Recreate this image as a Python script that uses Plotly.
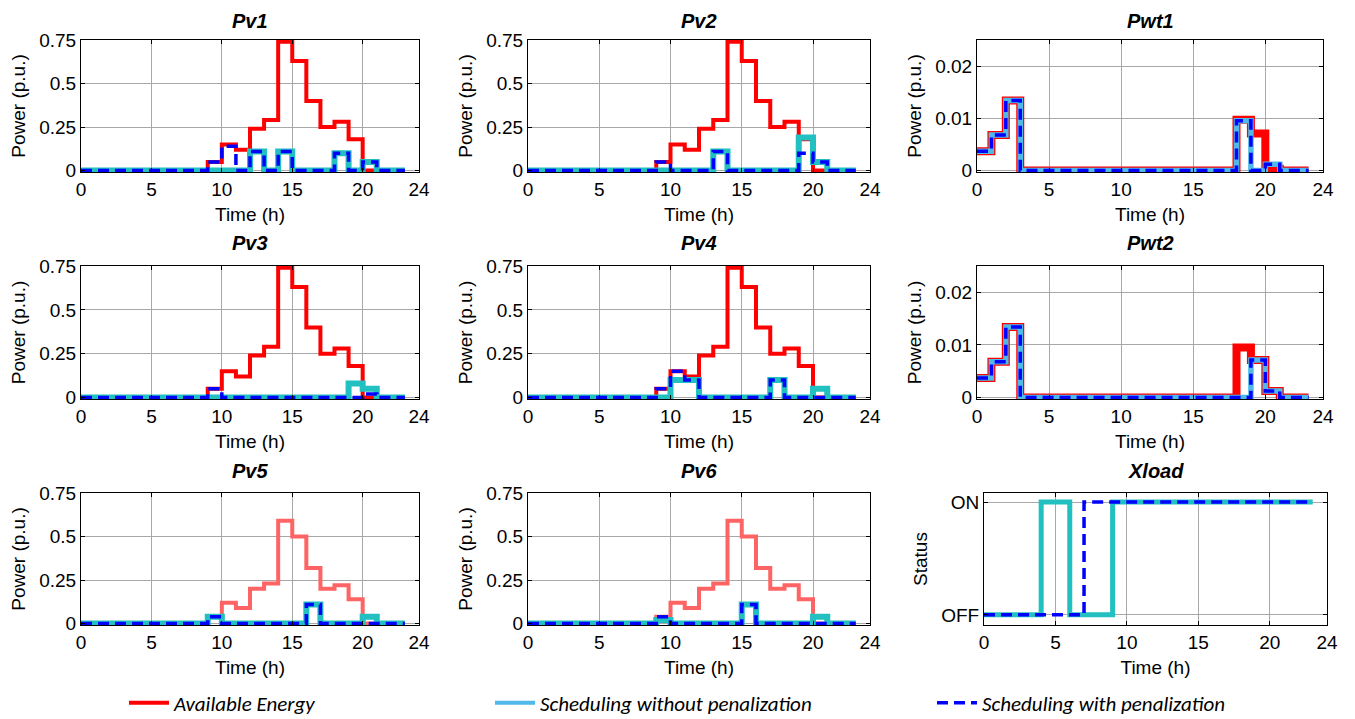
import plotly.graph_objects as go

# ---------------- data (hourly values, hours 0..23) ----------------
hours = [0, 1, 2, 3, 4, 5, 6, 7, 8, 9, 10, 11, 12, 13, 14, 15, 16, 17, 18, 19, 20, 21, 22, 23]
x_tick_vals = [0, 5, 10, 15, 20, 24]
pv_tick_vals = [0, 0.25, 0.5, 0.75]
pv_tick_text = ["0", "0.25", "0.5", "0.75"]
wt_tick_vals = [0, 0.01, 0.02]
wt_tick_text = ["0", "0.01", "0.02"]
status_tick_vals = [0, 1]
status_tick_text = ["OFF", "ON"]

pv_avail_a = [0, 0, 0, 0, 0, 0, 0, 0, 0, 0.05, 0.15, 0.12, 0.24, 0.29, 0.74, 0.63, 0.40, 0.25, 0.28, 0.18, 0, 0, 0, 0]
pv_avail_b = [0, 0, 0, 0, 0, 0, 0, 0, 0, 0.04, 0.12, 0.09, 0.20, 0.23, 0.59, 0.50, 0.32, 0.20, 0.22, 0.14, 0, 0, 0, 0]

pv1_without = [0, 0, 0, 0, 0, 0, 0, 0, 0, 0, 0, 0, 0.11, 0, 0.11, 0, 0, 0, 0.10, 0, 0.05, 0, 0, 0]
pv1_with    = [0, 0, 0, 0, 0, 0, 0, 0, 0, 0.05, 0.14, 0, 0.11, 0, 0.11, 0, 0, 0, 0.10, 0, 0.05, 0, 0, 0]
pv2_without = [0, 0, 0, 0, 0, 0, 0, 0, 0, 0, 0, 0, 0, 0.11, 0, 0, 0, 0, 0, 0.19, 0.05, 0, 0, 0]
pv2_with    = [0, 0, 0, 0, 0, 0, 0, 0, 0, 0.05, 0, 0, 0, 0.11, 0, 0, 0, 0, 0, 0.10, 0.05, 0, 0, 0]
pv3_without = [0, 0, 0, 0, 0, 0, 0, 0, 0, 0, 0, 0, 0, 0, 0, 0, 0, 0, 0, 0.08, 0.05, 0, 0, 0]
pv3_with    = [0, 0, 0, 0, 0, 0, 0, 0, 0, 0.05, 0, 0, 0, 0, 0, 0, 0, 0, 0, 0, 0.02, 0, 0, 0]
pv4_without = [0, 0, 0, 0, 0, 0, 0, 0, 0, 0, 0.10, 0.10, 0, 0, 0, 0, 0, 0.10, 0, 0, 0.05, 0, 0, 0]
pv4_with    = [0, 0, 0, 0, 0, 0, 0, 0, 0, 0.05, 0.15, 0.10, 0, 0, 0, 0, 0, 0.10, 0, 0, 0, 0, 0, 0]
pv5_without = [0, 0, 0, 0, 0, 0, 0, 0, 0, 0.04, 0, 0, 0, 0, 0, 0, 0.11, 0, 0, 0, 0.04, 0, 0, 0]
pv5_with    = [0, 0, 0, 0, 0, 0, 0, 0, 0, 0.04, 0, 0, 0, 0, 0, 0, 0.11, 0, 0, 0, 0, 0, 0, 0]
pv6_without = [0, 0, 0, 0, 0, 0, 0, 0, 0, 0.02, 0, 0, 0, 0, 0, 0.11, 0, 0, 0, 0, 0.04, 0, 0, 0]
pv6_with    = [0, 0, 0, 0, 0, 0, 0, 0, 0, 0.04, 0, 0, 0, 0, 0, 0.11, 0, 0, 0, 0, 0, 0, 0, 0]

wt1_avail   = [0.0037, 0.0068, 0.0134, 0, 0, 0, 0, 0, 0, 0, 0, 0, 0, 0, 0, 0, 0, 0, 0.0097, 0.0071, 0.0003, 0, 0, 0]
wt1_without = [0.0037, 0.0068, 0.0134, 0, 0, 0, 0, 0, 0, 0, 0, 0, 0, 0, 0, 0, 0, 0, 0.0095, 0, 0.0012, 0, 0, 0]
wt1_with    = [0.0037, 0.0068, 0.0134, 0, 0, 0, 0, 0, 0, 0, 0, 0, 0, 0, 0, 0, 0, 0, 0.0095, 0, 0.0012, 0, 0, 0]
wt2_avail   = [0.0037, 0.0068, 0.0134, 0, 0, 0, 0, 0, 0, 0, 0, 0, 0, 0, 0, 0, 0, 0, 0.0095, 0.0071, 0.0012, 0, 0, 0]
wt2_without = [0.0037, 0.0068, 0.0134, 0, 0, 0, 0, 0, 0, 0, 0, 0, 0, 0, 0, 0, 0, 0, 0, 0.0071, 0.0012, 0, 0, 0]
wt2_with    = [0.0037, 0.0068, 0.0134, 0, 0, 0, 0, 0, 0, 0, 0, 0, 0, 0, 0, 0, 0, 0, 0, 0.0071, 0.0012, 0, 0, 0]

xload_without = [0, 0, 0, 0, 1, 1, 0, 0, 0, 1, 1, 1, 1, 1, 1, 1, 1, 1, 1, 1, 1, 1, 1, 1]
xload_with    = [0, 0, 0, 0, 0, 0, 0, 1, 1, 1, 1, 1, 1, 1, 1, 1, 1, 1, 1, 1, 1, 1, 1, 1]

legend_names = ["Available Energy", "Scheduling without penalization", "Scheduling with penalization"]

# ---------------- styling ----------------
OFF = 8                      # page body margin
W, H = 1355 - OFF, 719 - OFF  # figure size so the page fits the window
FONT = "Arial, 'Liberation Sans', sans-serif"
LEG_FONT = "Carlito, Lato, sans-serif"
RED = "#FF0000"
LIGHT_RED = "#FF6464"
TEAL = "#22C0C0"
SKY = "#4FB9E9"
BLUE = "#0000FF"
GRID = "#A8A8A8"


def px_x(v):
    return (v - OFF) / W


def px_y(v):
    return 1 - (v - OFF) / H


col_px = {1: (81, 419), 2: (528, 870), 3: (977, 1323), "xl": (984, 1327)}
row_px = {1: (40, 172), 2: (266, 399), 3: (493, 625)}
title_px = {1: 21, 2: 243, 3: 471}

panels = [
    dict(title="Pv1", r=1, c=1, kind="pv", avail=pv_avail_a, wo=pv1_without, w=pv1_with, acol=RED),
    dict(title="Pv2", r=1, c=2, kind="pv", avail=pv_avail_a, wo=pv2_without, w=pv2_with, acol=RED),
    dict(title="Pwt1", r=1, c=3, kind="wt", avail=wt1_avail, wo=wt1_without, w=wt1_with, acol=RED),
    dict(title="Pv3", r=2, c=1, kind="pv", avail=pv_avail_a, wo=pv3_without, w=pv3_with, acol=RED),
    dict(title="Pv4", r=2, c=2, kind="pv", avail=pv_avail_a, wo=pv4_without, w=pv4_with, acol=RED),
    dict(title="Pwt2", r=2, c=3, kind="wt", avail=wt2_avail, wo=wt2_without, w=wt2_with, acol=RED),
    dict(title="Pv5", r=3, c=1, kind="pv", avail=pv_avail_b, wo=pv5_without, w=pv5_with, acol=LIGHT_RED),
    dict(title="Pv6", r=3, c=2, kind="pv", avail=pv_avail_b, wo=pv6_without, w=pv6_with, acol=LIGHT_RED),
    dict(title="Xload", r=3, c="xl", kind="status", avail=None, wo=xload_without, w=xload_with, acol=None),
]

fig = go.Figure()
layout = dict(
    width=W, height=H,
    margin=dict(l=0, r=0, t=0, b=0, autoexpand=False),
    paper_bgcolor="white", plot_bgcolor="white",
    font=dict(family=FONT, size=19, color="black"),
    annotations=[],
)

for i, p in enumerate(panels, start=1):
    sfx = "" if i == 1 else str(i)
    xa, ya = "x" + sfx, "y" + sfx
    x0, x1 = col_px[p["c"]]
    top, bot = row_px[p["r"]]
    xdom = [px_x(x0), px_x(x1)]
    ydom = [px_y(bot), px_y(top)]

    if p["kind"] == "pv":
        yrange, tv, tt, ytitle = [-0.008, 0.75], pv_tick_vals, pv_tick_text, "Power (p.u.)"
        wa, wwo, ww, cwo = 4, 6, 3.5, TEAL
    elif p["kind"] == "wt":
        yrange, tv, tt, ytitle = [-0.0003, 0.025], wt_tick_vals, wt_tick_text, "Power (p.u.)"
        wa, wwo, ww, cwo = 8, 5.5, 3.5, SKY
    else:
        yrange, tv, tt, ytitle = [-0.09, 1.08], status_tick_vals, status_tick_text, "Status"
        wa, wwo, ww, cwo = 0, 5, 3.5, TEAL

    if p["avail"] is not None:
        fig.add_trace(go.Scatter(
            x=hours, y=p["avail"], mode="lines", line=dict(color=p["acol"], width=wa, shape="hv"),
            name="<i>%s</i>" % legend_names[0], legend="legend", showlegend=(i == 1),
            xaxis=xa, yaxis=ya))
    fig.add_trace(go.Scatter(
        x=hours, y=p["wo"], mode="lines", line=dict(color=cwo, width=wwo, shape="hv"),
        name="<i>%s</i>" % legend_names[1], legend="legend2", showlegend=False,
        xaxis=xa, yaxis=ya))
    fig.add_trace(go.Scatter(
        x=hours, y=p["w"], mode="lines", line=dict(color=BLUE, width=ww, shape="hv", dash="11px,6px"),
        name="<i>%s</i>" % legend_names[2], legend="legend3", showlegend=(i == 1),
        xaxis=xa, yaxis=ya))

    axis_common = dict(
        showline=True, linecolor="black", linewidth=1, mirror="ticks",
        ticks="inside", ticklen=4, tickcolor="black",
        showgrid=True, gridcolor=GRID, gridwidth=1, zeroline=False,
        tickfont=dict(family=FONT, size=19, color="black"),
        fixedrange=True, automargin=False,
    )
    layout["xaxis" + sfx] = dict(
        axis_common, domain=xdom, anchor=ya, range=[0, 24],
        tickvals=x_tick_vals, ticktext=[str(v) for v in x_tick_vals],
        title=dict(text="Time (h)", font=dict(family=FONT, size=19), standoff=8),
    )
    layout["yaxis" + sfx] = dict(
        axis_common, domain=ydom, anchor=xa, range=yrange,
        tickvals=tv, ticktext=tt,
        title=dict(text=ytitle, font=dict(family=FONT, size=19), standoff=8),
    )
    layout["annotations"].append(dict(
        text="<b><i>%s</i></b>" % p["title"], xref="paper", yref="paper",
        x=(xdom[0] + xdom[1]) / 2, y=px_y(title_px[p["r"]]),
        xanchor="center", yanchor="middle", showarrow=False,
        font=dict(family=FONT, size=20, color="black"),
    ))

# legend-only entry for the lighter blue swatch
fig.add_trace(go.Scatter(
    x=[None], y=[None], mode="lines", line=dict(color=SKY, width=4),
    name="<i>%s</i>" % legend_names[1], legend="legend2", showlegend=True, xaxis="x", yaxis="y"))

ly = px_y(703)
for key, xpx in (("legend", 124), ("legend2", 490), ("legend3", 932)):
    layout[key] = dict(
        x=px_x(xpx), y=ly, xanchor="left", yanchor="middle",
        orientation="h", bgcolor="rgba(0,0,0,0)", borderwidth=0,
        font=dict(family=LEG_FONT, size=21, color="black"), itemwidth=40,
    )

fig.update_layout(**layout)
fig.write_html("out.html")
